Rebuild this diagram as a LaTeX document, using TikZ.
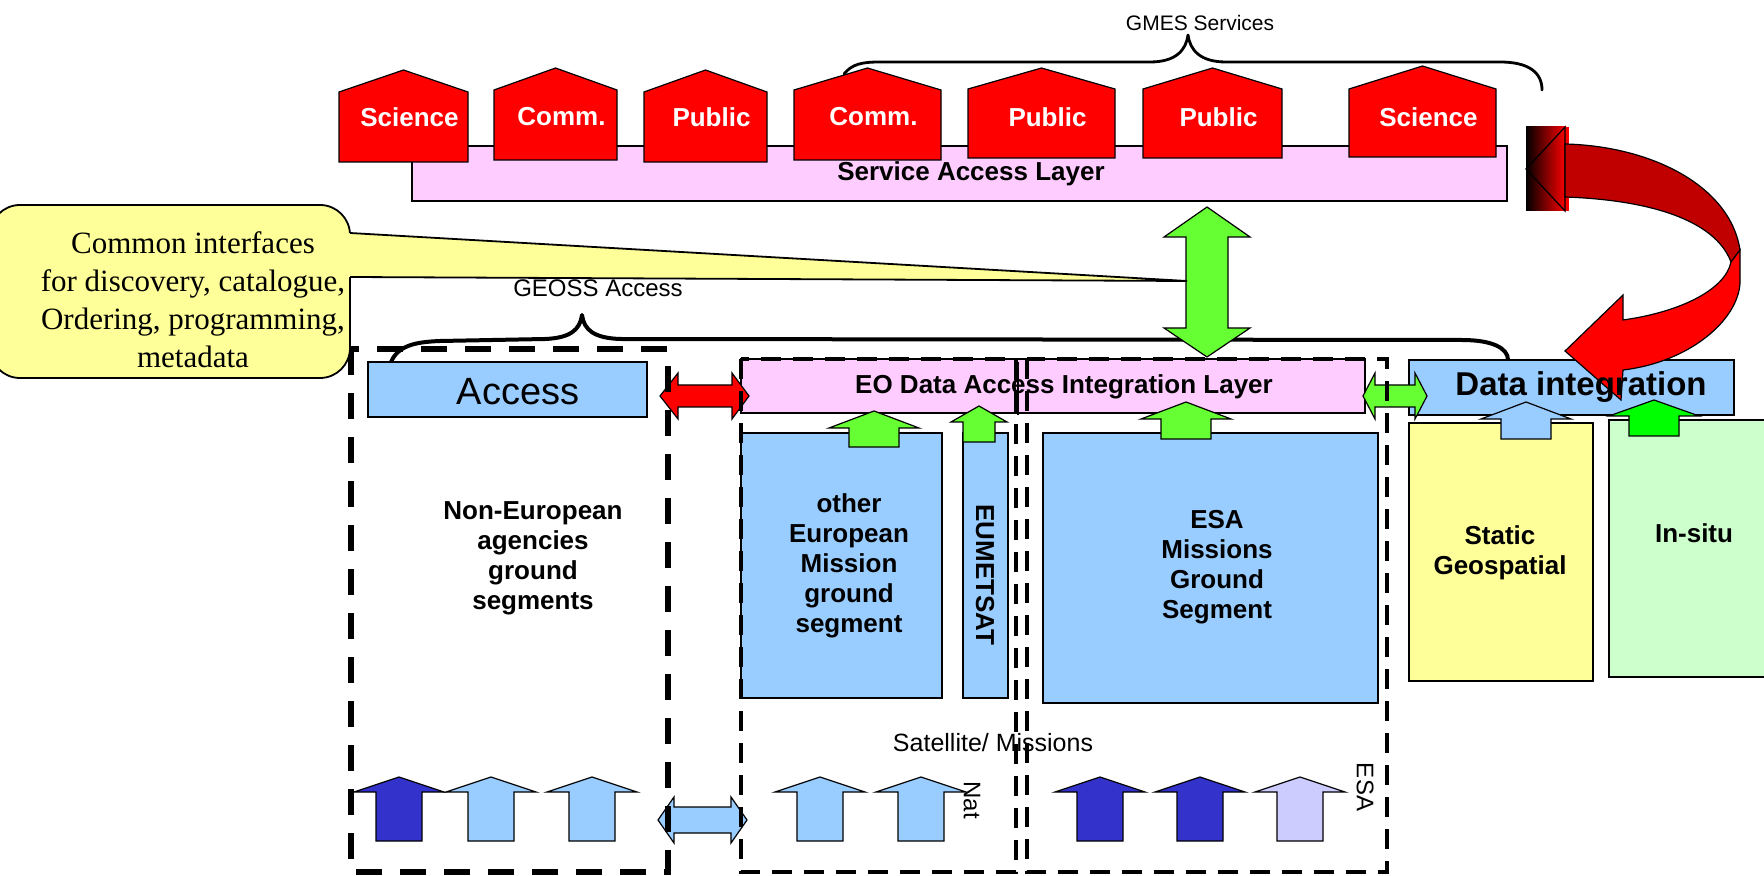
\documentclass[tikz,border=0pt]{standalone}
\usepackage{fontspec}
\setmainfont{Liberation Sans}
\newfontfamily\notefont{Liberation Serif}
\usetikzlibrary{calc}

\definecolor{housered}{HTML}{FF0000}
\definecolor{darkred}{HTML}{C00000}
\definecolor{layerpink}{HTML}{FFCCFF}
\definecolor{skyblue}{HTML}{99CCFF}
\definecolor{arrgreen}{HTML}{66FF33}
\definecolor{puregreen}{HTML}{00FF00}
\definecolor{deepblue}{HTML}{3333CC}
\definecolor{lavender}{HTML}{CCCCFF}
\definecolor{noteyellow}{HTML}{FFFF99}
\definecolor{insitugreen}{HTML}{CCFFCC}

\tikzset{
  box/.style={draw=black, line width=0.6pt},
  lbl/.style={font=\bfseries\fontsize{13}{15}\selectfont, align=center, inner sep=0pt},
  plainlbl/.style={font=\fontsize{12}{14}\selectfont, inner sep=0pt},
  bigdash/.style={line width=3.3pt, dash pattern=on 13pt off 9pt},
  middash/.style={line width=2.4pt, dash pattern=on 10pt off 6pt},
  brace/.style={line width=1.4pt, line cap=round, line join=round},
}

% block arrows: fill, x, tip, head base, bottom, head half width, shaft half width
\newcommand{\blockup}[7]{%
  \filldraw[box, fill=#1] (#2,#3) -- ({#2+#6},#4) -- ({#2+#7},#4) -- ({#2+#7},#5)
    -- ({#2-#7},#5) -- ({#2-#7},#4) -- ({#2-#6},#4) -- cycle;}
% fill, x, top tip, top base, bottom base, bottom tip, head hw, shaft hw
\newcommand{\blockupdown}[8]{%
  \filldraw[box, fill=#1] (#2,#3) -- ({#2+#7},#4) -- ({#2+#8},#4) -- ({#2+#8},#5) -- ({#2+#7},#5)
    -- (#2,#6) -- ({#2-#7},#5) -- ({#2-#8},#5) -- ({#2-#8},#4) -- ({#2-#7},#4) -- cycle;}
% fill, y, left tip, left base, right base, right tip, head hh, shaft hh
\newcommand{\blocklr}[8]{%
  \filldraw[box, fill=#1] (#3,#2) -- (#4,{#2-#7}) -- (#4,{#2-#8}) -- (#5,{#2-#8}) -- (#5,{#2-#7})
    -- (#6,#2) -- (#5,{#2+#7}) -- (#5,{#2+#8}) -- (#4,{#2+#8}) -- (#4,{#2+#7}) -- cycle;}
% name, left, right, apex, shoulder, bottom, text
\newcommand{\house}[7]{%
  \filldraw[box, fill=housered] (#2,#6) -- (#2,#5) -- ({(#2+#3)/2},#4) -- (#3,#5) -- (#3,#6) -- cycle;
  \node[lbl, text=white] (#1) at ({(#2+#3)/2+6},117) {#7};}

\begin{document}
\begin{tikzpicture}[x=0.5pt, y=-0.5pt]
\useasboundingbox (0,0) rectangle (1764,876);

% service layer + GMES services
\draw[box, fill=layerpink] (412,146) rectangle (1507,201);
\node[lbl] (sal) at (971,174) {Service Access Layer};
\house{sci1}{339}{468}{70}{92}{162}{Science}
\house{com1}{494}{617}{68}{90}{160}{Comm.}
\house{pub1}{644}{767}{70}{92}{162}{Public}
\house{com2}{794}{941}{68}{90}{160}{Comm.}
\house{pub2}{968}{1115}{68}{89}{158}{Public}
\house{pub3}{1143}{1282}{68}{89}{158}{Public}
\house{sci2}{1349}{1496}{66}{89}{157}{Science}
\draw[brace] (844,74) .. controls (852,64) and (862,62) .. (880,62) -- (1150,62)
  .. controls (1176,62) and (1186,50) .. (1188,35) .. controls (1190,50) and (1200,62) .. (1226,62)
  -- (1500,62) .. controls (1528,62) and (1542,72) .. (1542,90);
\node[inner sep=0pt, font=\fontsize{10.5}{12}\selectfont] (gmes) at (1200,23) {GMES Services};

% GEOSS brace
\draw[brace, line width=2pt] (391,362) .. controls (398,346) and (414,342) .. (440,341) -- (545,339)
  .. controls (570,338) and (580,330) .. (582,315) .. controls (584,330) and (594,338) .. (620,339)
  -- (1462,340) .. controls (1492,340) and (1508,348) .. (1508,360);
\node[inner sep=0pt, font=\fontsize{12}{14}\selectfont] (geoss) at (598,288) {GEOSS Access};

\blockupdown{arrgreen}{1207}{207}{237}{328}{357}{43}{21}

% access, EO layer, data integration
\draw[box, fill=skyblue] (368,362) rectangle (647,417);
\node[inner sep=0pt, font=\fontsize{19}{22}\selectfont] (access) at (518,392) {Access};
\draw[box, fill=layerpink] (741,359) rectangle (1365,413);
\node[lbl] (eolayer) at (1064,387) {EO Data Access Integration Layer};
\draw[line width=1pt] (1018,362) -- (1018,415);
\draw[box, fill=skyblue] (1409,360) rectangle (1734,415);

% ground segments
\draw[box, fill=skyblue] (741,433) rectangle (942,698);
\node[lbl] (othereu) at (849,566) {other\\European\\Mission\\ground\\segment};
\draw[box, fill=skyblue] (963,433) rectangle (1008,698);
\node[lbl, rotate=-90] (eumetsat) at (985,575) {EUMETSAT};
\draw[box, fill=skyblue] (1043,433) rectangle (1378,703);
\node[lbl] (esaseg) at (1217,567) {ESA\\Missions\\Ground\\Segment};
\draw[box, fill=noteyellow] (1409,423) rectangle (1593,681);
\node[lbl] (static) at (1500,553) {Static\\Geospatial};
\draw[box, fill=insitugreen] (1609,420) rectangle (1780,677);
\node[lbl] (insitu) at (1694,533) {In-situ};
\node[lbl] (noneu) at (533,558) {Non-European\\agencies\\ground\\segments};

\blockup{arrgreen}{874}{411}{428}{447}{45}{25}
\blockup{arrgreen}{979}{406}{422}{442}{28}{16}
\blockup{arrgreen}{1186}{402}{419}{439}{45}{25}
\blockup{skyblue}{1526}{402}{419}{439}{45}{25}
\blockup{puregreen}{1654}{400}{416}{436}{45}{25}

% curved red arrow
\shade[left color=black, right color=red] (1526,127) rectangle (1566,211);
\fill[red] (1565,127) rectangle (1569,211);
\draw[box] (1565,127) -- (1526,169) -- (1565,211) -- cycle;
\filldraw[box, fill=darkred] (1565,144) .. controls (1650,146) and (1730,185) .. (1740,250)
  -- (1731,262) .. controls (1715,220) and (1650,200) .. (1565,197) -- cycle;
\filldraw[box, fill=housered] (1740,250) -- (1740,283) .. controls (1738,320) and (1690,362) .. (1623,370)
  -- (1621,400) -- (1565,351) -- (1623,295) -- (1623,320)
  .. controls (1680,312) and (1725,290) .. (1731,262) -- cycle;
\node[lbl, font=\bfseries\fontsize{16.5}{19}\selectfont] (dataint) at (1581,387) {Data integration};

% links between layers
\blocklr{housered}{396}{660}{678}{732}{749}{23}{11}
\blocklr{arrgreen}{396}{1363}{1375}{1415}{1427}{23}{11}
\blocklr{skyblue}{820}{658}{674}{731}{747}{23}{13}

% satellites
\foreach \cx/\col in {399/deepblue, 491/skyblue, 592/skyblue, 820/skyblue, 921/skyblue,
                      1100/deepblue, 1200/deepblue, 1300/lavender}
  \blockup{\col}{\cx}{777}{792}{841}{45}{23};
\node[inner sep=0pt, font=\fontsize{12.5}{14}\selectfont] (sat) at (993,743) {Satellite/ Missions};

% groupings
\draw[bigdash] (351,349) rectangle (668,872);
\draw[middash] (741,359) rectangle (1016,872);
\draw[middash] (1027,359) rectangle (1387,872);
\node[plainlbl, rotate=-90] (nat) at (972,800) {Nat};
\node[plainlbl, rotate=-90] (esa) at (1365,787) {ESA};

% callout
\filldraw[box, line width=0.9pt, fill=noteyellow, rounded corners=15pt] (-10,205) rectangle (350,378);
\fill[noteyellow] (346,233) -- (1187,281) -- (346,277) -- cycle;
\draw[box, line width=0.9pt] (350,233) -- (1187,281) -- (350,277);
\node[inner sep=0pt, align=center, font=\notefont\fontsize{15.5}{19}\selectfont] (note) at (193,300)
  {Common interfaces\\for discovery, catalogue,\\Ordering, programming,\\metadata};
\end{tikzpicture}
\end{document}
